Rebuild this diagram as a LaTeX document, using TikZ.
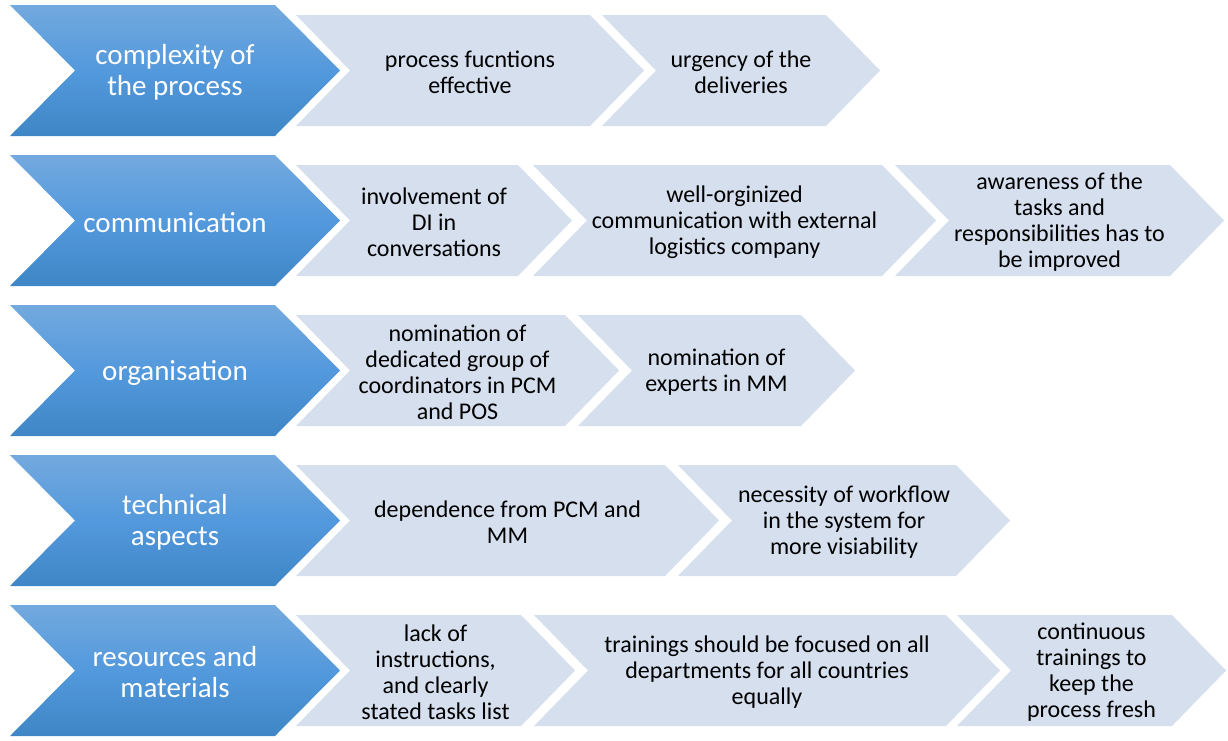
\documentclass[tikz,border=0pt]{standalone}
\usepackage{fontspec}
\setmainfont{Carlito}
\definecolor{headTop}{HTML}{73A9DE}
\definecolor{headMid}{HTML}{5399DD}
\definecolor{headBottom}{HTML}{3F86C6}
\definecolor{itemFill}{HTML}{D5DFEE}

\begin{document}
\begin{tikzpicture}
[x=1pt,y=-1pt,
  headDecorate/.style={top color=headTop,bottom color=headBottom,middle color=headMid,draw=none},%
  itemDecorate/.style={fill=itemFill,draw=none},%
  headText/.style={text=white,align=center,yshift=-2pt,font=\fontsize{29}{31}\selectfont},%
  itemText/.style={text=black,align=center,yshift=-2pt,font=\fontsize{24}{26}\selectfont}]
\useasboundingbox (0,0) rectangle (1228,740);
%% blue chevrons with the topics
\foreach \row/\txt in {
  0/{complexity of\\the process}, 1/communication, 2/organisation,
  3/{technical\\aspects}, 4/{resources and\\materials}}
{
  \path[headDecorate] (10,5+150*\row) -- (275,5+150*\row)
    -- (340,70.5+150*\row) -- (275,136+150*\row) -- (10,136+150*\row)
    -- (75,70.5+150*\row) -- cycle;
  \node[headText] (head\row) at (175,70.5+150*\row) {\txt};
}
%% light chevrons with the findings
\foreach \row/\col/\lft/\tip/\txt in {
  %% complexity of the process
  0/1/296/644/{process fucntions\\effective},
  0/2/602/880/{urgency of the\\deliveries},
  %% communication
  1/1/296/572/{involvement of\\DI in\\conversations},
  1/2/533/936/{well-orginized\\communication with external\\logistics company},
  1/3/895/1224/{awareness of the\\tasks and\\responsibilities has to\\be improved},
  %% organisation
  2/1/296/619/{nomination of\\dedicated group of\\coordinators in PCM\\and POS},
  2/2/578/855/{nomination of\\experts in MM},
  %% technical aspects
  3/1/296/719/{dependence from PCM and\\MM},
  3/2/678/1010/{necessity of workflow\\in the system for\\more visiability},
  %% resources and materials
  4/1/296/575/{lack of\\instructions,\\and clearly\\stated tasks list},
  4/2/534/1000/{trainings should be focused on all\\departments for all countries\\equally},
  4/3/957/1226/{continuous\\trainings to\\keep the\\process fresh}}
{
  \path[itemDecorate] (\lft,15+150*\row) -- (\tip-54,15+150*\row)
    -- (\tip,70.5+150*\row) -- (\tip-54,126+150*\row) -- (\lft,126+150*\row)
    -- (\lft+54,70.5+150*\row) -- cycle;
  \node[itemText] (item\row-\col) at ({(\lft+\tip)/2},70.5+150*\row) {\txt};
}
\end{tikzpicture}
\end{document}
